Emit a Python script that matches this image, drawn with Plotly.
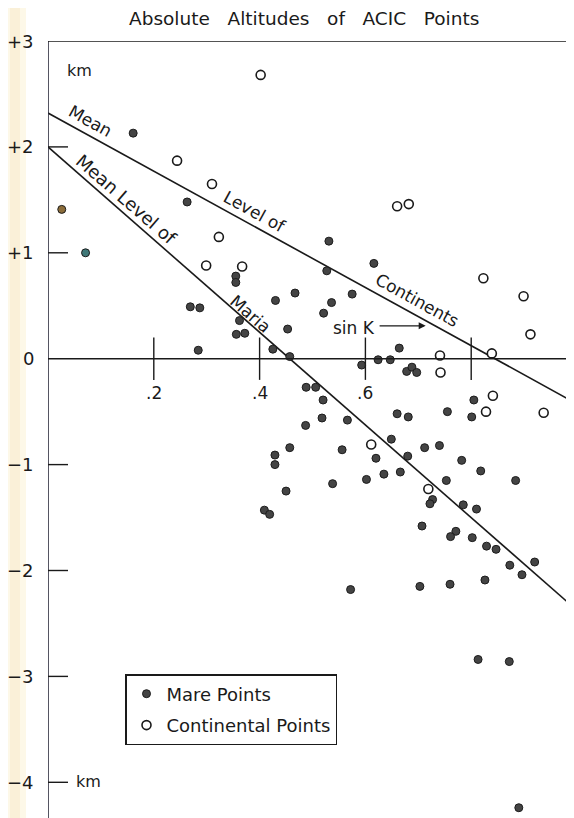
import plotly.graph_objects as go

# ---------------- data (sin K, altitude in km) ----------------
mare_sin_k = [0.161, 0.026, 0.071, 0.263, 0.355, 0.355, 0.269, 0.287, 0.430, 0.362,
              0.356, 0.372, 0.284, 0.425, 0.453, 0.457, 0.467, 0.527, 0.575, 0.536,
              0.521, 0.531, 0.616, 0.593, 0.624, 0.647, 0.664, 0.678, 0.688, 0.697,
              0.488, 0.506, 0.520, 0.518, 0.487, 0.566, 0.660, 0.681, 0.755, 0.805,
              0.801, 0.457, 0.429, 0.429, 0.556, 0.450, 0.538, 0.602, 0.620, 0.635,
              0.666, 0.649, 0.680, 0.712, 0.740, 0.782, 0.818, 0.884, 0.753, 0.727,
              0.722, 0.785, 0.810, 0.707, 0.771, 0.761, 0.802, 0.829, 0.847, 0.873,
              0.920, 0.896, 0.826, 0.703, 0.760, 0.572, 0.813, 0.872, 0.890, 0.409,
              0.419]
mare_alt = [2.13, 1.41, 1.00, 1.48, 0.78, 0.72, 0.49, 0.48, 0.55, 0.36,
            0.23, 0.24, 0.08, 0.09, 0.28, 0.02, 0.62, 0.83, 0.61, 0.53,
            0.43, 1.11, 0.90, -0.06, -0.01, -0.01, 0.10, -0.12, -0.08, -0.13,
            -0.27, -0.27, -0.39, -0.56, -0.63, -0.58, -0.52, -0.55, -0.50, -0.39,
            -0.55, -0.84, -0.91, -1.00, -0.86, -1.25, -1.18, -1.14, -0.94, -1.09,
            -1.07, -0.76, -0.92, -0.84, -0.82, -0.96, -1.06, -1.15, -1.15, -1.33,
            -1.37, -1.38, -1.42, -1.58, -1.63, -1.68, -1.69, -1.77, -1.80, -1.95,
            -1.92, -2.04, -2.09, -2.15, -2.13, -2.18, -2.84, -2.86, -4.24, -1.43,
            -1.47]

cont_sin_k = [0.402, 0.244, 0.310, 0.323, 0.299, 0.367, 0.660, 0.682, 0.823, 0.899,
              0.912, 0.741, 0.742, 0.839, 0.841, 0.828, 0.937, 0.611, 0.719]
cont_alt = [2.68, 1.87, 1.65, 1.15, 0.88, 0.87, 1.44, 1.46, 0.76, 0.59,
            0.23, 0.03, -0.13, 0.05, -0.35, -0.50, -0.51, -0.81, -1.23]

# mean-level lines (end points)
continents_line_x = [0.0, 0.994]
continents_line_y = [2.32, -0.41]
maria_line_x = [0.0, 0.994]
maria_line_y = [2.00, -2.35]

x_tick_vals = [0.2, 0.4, 0.6, 0.8]
x_tick_text = [".2", ".4", ".6", ""]
y_tick_vals = [3, 2, 1, 0, -1, -2, -3, -4]
y_tick_text = ["+3", "+2", "+1", "0", "\u22121", "\u22122", "\u22123", "\u22124"]

# ---------------- figure ----------------
OFF = 8                      # default page margin of the html body
SW, SH = 574, 818            # window size
W, H = SW - OFF, SH - OFF    # figure size
SL, ST = 48, 41              # plot-area origin in window pixels
L, T = SL - OFF, ST - OFF
PW, PH = SW - SL, SH - ST
X_RANGE = [0.0, PW / 529.0]
Y_RANGE = [3 - PH / 105.9, 3.0]
FONT = "DejaVu Sans"
INK = "#1a1a1a"


def px_x(sx):
    return (sx - SL) / PW


def px_y(sy):
    return 1 - (sy - ST) / PH


mare_fill = ["#444444"] * len(mare_sin_k)
mare_fill[1] = "#8c6d3a"
mare_fill[2] = "#3f7878"

fig = go.Figure()

fig.add_trace(go.Scatter(x=continents_line_x, y=continents_line_y, mode="lines",
                         line=dict(color=INK, width=1.6), showlegend=False,
                         hoverinfo="skip"))
fig.add_trace(go.Scatter(x=maria_line_x, y=maria_line_y, mode="lines",
                         line=dict(color=INK, width=1.6), showlegend=False,
                         hoverinfo="skip"))

fig.add_trace(go.Scatter(x=mare_sin_k, y=mare_alt, mode="markers", name="Mare Points",
                         legendgroup="a",
                         marker=dict(size=8, color=mare_fill,
                                     line=dict(color="#1c1c1c", width=1))))
fig.add_trace(go.Scatter(x=cont_sin_k, y=cont_alt, mode="markers", name="Continental Points",
                         legendgroup="b",
                         marker=dict(size=9, color="white", symbol="circle",
                                     line=dict(color=INK, width=1.6))))

shapes = []
# left cream strip from the scan
for x0, x1, c in [(OFF, 26, "#fdf8e8"), (10, 20, "#faf0d8")]:
    shapes.append(dict(type="rect", xref="paper", yref="paper",
                       x0=px_x(x0), x1=px_x(x1), y0=px_y(SH + 5), y1=px_y(0),
                       fillcolor=c, line=dict(width=0), layer="below"))
# axes
shapes.append(dict(type="line", xref="x", yref="y", x0=0, x1=0,
                   y0=Y_RANGE[0], y1=Y_RANGE[1], line=dict(color="#2a2a3a", width=1.6)))
shapes.append(dict(type="line", xref="x", yref="y", x0=0, x1=X_RANGE[1],
                   y0=3, y1=3, line=dict(color=INK, width=1.6)))
shapes.append(dict(type="line", xref="x", yref="y", x0=0, x1=X_RANGE[1],
                   y0=0, y1=0, line=dict(color=INK, width=1.4)))
tick_len = 20 / 529
for v in y_tick_vals:
    if v in (3, 0):
        continue
    shapes.append(dict(type="line", xref="x", yref="y", x0=0, x1=tick_len,
                       y0=v, y1=v, line=dict(color=INK, width=1.4)))
for v in x_tick_vals:
    shapes.append(dict(type="line", xref="x", yref="y", x0=v, x1=v,
                       y0=-0.2, y1=0.2, line=dict(color=INK, width=1.4)))

annotations = []
for v, t in zip(y_tick_vals, y_tick_text):
    annotations.append(dict(x=px_x(36), xref="paper", y=v, yref="y", text=t,
                            showarrow=False, xanchor="right", yanchor="middle",
                            font=dict(family=FONT, size=18, color=INK)))
for v, t in zip(x_tick_vals, x_tick_text):
    if t:
        annotations.append(dict(x=v, y=-0.32, xref="x", yref="y", text=t,
                                showarrow=False, xanchor="center", yanchor="middle",
                                font=dict(family=FONT, size=17, color=INK)))


def lab(text, x, y, ang, size=17):
    annotations.append(dict(x=x, y=y, xref="x", yref="y", text=text, showarrow=False,
                            textangle=ang, xanchor="center", yanchor="middle",
                            font=dict(family=FONT, size=size, color=INK)))


lab("Mean", 0.080, 2.24, 28.8)
lab("Level\u00a0of", 0.392, 1.39, 28.8)
lab("Continents", 0.697, 0.55, 28.8)
lab("Mean\u00a0Level\u00a0of", 0.148, 1.50, 41.1, 18)
lab("Maria", 0.383, 0.425, 41.1)

# km labels
annotations.append(dict(x=px_x(65), xref="paper", y=2.72, yref="y", text="km",
                        showarrow=False, xanchor="left", yanchor="middle",
                        font=dict(family=FONT, size=16, color=INK)))
annotations.append(dict(x=px_x(74), xref="paper", y=-3.99, yref="y", text="km",
                        showarrow=False, xanchor="left", yanchor="middle",
                        font=dict(family=FONT, size=16, color=INK)))
# sin K label with arrow
annotations.append(dict(x=0.578, y=0.29, xref="x", yref="y", text="sin\u00a0K",
                        showarrow=False, xanchor="center", yanchor="middle",
                        font=dict(family=FONT, size=17, color=INK)))
annotations.append(dict(x=0.714, y=0.31, xref="x", yref="y", ax=0.624, ay=0.31,
                        axref="x", ayref="y", text="", showarrow=True,
                        arrowhead=2, arrowsize=1, arrowwidth=1.4, arrowcolor=INK))
# title
annotations.append(dict(x=px_x(304), xref="paper", y=px_y(18.5), yref="paper",
                        text="Absolute\u00a0\u00a0\u00a0Altitudes\u00a0\u00a0\u00a0of\u00a0\u00a0\u00a0ACIC\u00a0\u00a0\u00a0Points",
                        showarrow=False, xanchor="center", yanchor="middle",
                        font=dict(family=FONT, size=18.5, color=INK)))

fig.update_layout(
    width=W, height=H,
    margin=dict(l=L, r=W - L - PW, t=T, b=H - T - PH, pad=0),
    paper_bgcolor="white", plot_bgcolor="white",
    xaxis=dict(range=X_RANGE, visible=False, fixedrange=True),
    yaxis=dict(range=Y_RANGE, visible=False, fixedrange=True),
    shapes=shapes, annotations=annotations,
    showlegend=True,
    legend=dict(x=px_x(125), y=px_y(674), xanchor="left", yanchor="top",
                bgcolor="white", bordercolor=INK, borderwidth=1.5,
                font=dict(family=FONT, size=18, color=INK),
                tracegroupgap=5, itemsizing="trace"),
)

fig.write_html("out.html")
